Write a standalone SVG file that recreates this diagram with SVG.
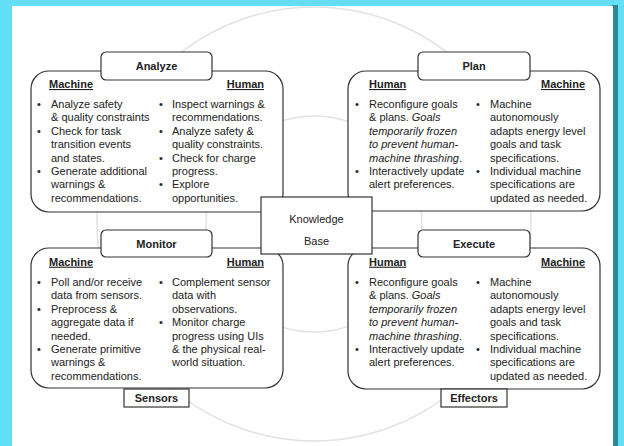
<svg xmlns="http://www.w3.org/2000/svg" width="624" height="446" viewBox="0 0 624 446">
<defs>
<style>
.box{fill:#fff;stroke:#333;stroke-width:1.2}
.ring{fill:none;stroke:#e2e2e2;stroke-width:1.5}
text{font-family:"Liberation Sans",Arial,sans-serif;fill:#222}
.t{font-size:11px;font-weight:bold}
.h{font-size:11px;font-weight:bold;text-decoration:underline}
.b{font-size:11px}
.i{font-style:italic}
</style>
</defs>
<g id="background">
<rect x="0" y="0" width="624" height="446" fill="#62def5"/>
<rect x="612" y="5" width="6" height="441" fill="#2f8696"/>
<rect x="12" y="6" width="601" height="440" fill="#fff"/>
<circle class="ring" cx="314" cy="224" r="217"/>
<circle class="ring" cx="314" cy="224" r="108"/>
</g>
<g id="connectors"/>
<g id="analyze">
<rect class="box" x="31" y="71" width="252" height="141" rx="18"/>
<rect class="box" x="101" y="52" width="111" height="28" rx="5"/>
<text class="t" x="156.5" y="70" text-anchor="middle">Analyze</text>
<text class="h" x="49" y="88">Machine</text>
<text class="h" x="264" y="88" text-anchor="end">Human</text>
<g class="b">
<text x="37" y="108">•</text><text x="51" y="108">Analyze safety</text>
<text x="51" y="121.4">&amp; quality constraints</text>
<text x="37" y="134.8">•</text><text x="51" y="134.8">Check for task</text>
<text x="51" y="148.2">transition events</text>
<text x="51" y="161.6">and states.</text>
<text x="37" y="175">•</text><text x="51" y="175">Generate additional</text>
<text x="51" y="188.4">warnings &amp;</text>
<text x="51" y="201.8">recommendations.</text>
<text x="159" y="108">•</text><text x="172" y="108">Inspect warnings &amp;</text>
<text x="172" y="121.4">recommendations.</text>
<text x="159" y="134.8">•</text><text x="172" y="134.8">Analyze safety &amp;</text>
<text x="172" y="148.2">quality constraints.</text>
<text x="159" y="161.6">•</text><text x="172" y="161.6">Check for charge</text>
<text x="172" y="175">progress.</text>
<text x="159" y="188.4">•</text><text x="172" y="188.4">Explore</text>
<text x="172" y="201.8">opportunities.</text>
</g>
</g>
<g id="plan">
<rect class="box" x="348" y="71" width="252" height="140" rx="18"/>
<rect class="box" x="418" y="52" width="112" height="28" rx="5"/>
<text class="t" x="474" y="70" text-anchor="middle">Plan</text>
<text class="h" x="369" y="88">Human</text>
<text class="h" x="585" y="88" text-anchor="end">Machine</text>
<g class="b">
<text x="355" y="108">•</text><text x="369" y="108">Reconfigure goals</text>
<text x="369" y="121.4">&amp; plans. <tspan class="i">Goals</tspan></text>
<text x="369" y="134.8" class="i">temporarily frozen</text>
<text x="369" y="148.2" class="i">to prevent human-</text>
<text x="369" y="161.6"><tspan class="i">machine thrashing</tspan>.</text>
<text x="355" y="175">•</text><text x="369" y="175">Interactively update</text>
<text x="369" y="188.4">alert preferences.</text>
<text x="476" y="108">•</text><text x="490" y="108">Machine</text>
<text x="490" y="121.4">autonomously</text>
<text x="490" y="134.8">adapts energy level</text>
<text x="490" y="148.2">goals and task</text>
<text x="490" y="161.6">specifications.</text>
<text x="476" y="175">•</text><text x="490" y="175">Individual machine</text>
<text x="490" y="188.4">specifications are</text>
<text x="490" y="201.8">updated as needed.</text>
</g>
</g>
<g id="monitor">
<rect class="box" x="31" y="248" width="252" height="140" rx="18"/>
<rect class="box" x="101" y="230" width="111" height="27" rx="5"/>
<text class="t" x="156.5" y="247.5" text-anchor="middle">Monitor</text>
<text class="h" x="49" y="265.7">Machine</text>
<text class="h" x="264" y="265.7" text-anchor="end">Human</text>
<g class="b">
<text x="37" y="286">•</text><text x="51" y="286">Poll and/or receive</text>
<text x="51" y="299.4">data from sensors.</text>
<text x="37" y="312.8">•</text><text x="51" y="312.8">Preprocess &amp;</text>
<text x="51" y="326.2">aggregate data if</text>
<text x="51" y="339.6">needed.</text>
<text x="37" y="353">•</text><text x="51" y="353">Generate primitive</text>
<text x="51" y="366.4">warnings &amp;</text>
<text x="51" y="379.8">recommendations.</text>
<text x="159" y="286">•</text><text x="172" y="286">Complement sensor</text>
<text x="172" y="299.4">data with</text>
<text x="172" y="312.8">observations.</text>
<text x="159" y="326.2">•</text><text x="172" y="326.2">Monitor charge</text>
<text x="172" y="339.6">progress using UIs</text>
<text x="172" y="353">&amp; the physical real-</text>
<text x="172" y="366.4">world situation.</text>
</g>
</g>
<g id="execute">
<rect class="box" x="348" y="248" width="252" height="141" rx="18"/>
<rect class="box" x="418" y="230" width="112" height="27" rx="5"/>
<text class="t" x="474" y="247.5" text-anchor="middle">Execute</text>
<text class="h" x="369" y="265.7">Human</text>
<text class="h" x="585" y="265.7" text-anchor="end">Machine</text>
<g class="b">
<text x="355" y="286">•</text><text x="369" y="286">Reconfigure goals</text>
<text x="369" y="299.4">&amp; plans. <tspan class="i">Goals</tspan></text>
<text x="369" y="312.8" class="i">temporarily frozen</text>
<text x="369" y="326.2" class="i">to prevent human-</text>
<text x="369" y="339.6"><tspan class="i">machine thrashing</tspan>.</text>
<text x="355" y="353">•</text><text x="369" y="353">Interactively update</text>
<text x="369" y="366.4">alert preferences.</text>
<text x="476" y="286">•</text><text x="490" y="286">Machine</text>
<text x="490" y="299.4">autonomously</text>
<text x="490" y="312.8">adapts energy level</text>
<text x="490" y="326.2">goals and task</text>
<text x="490" y="339.6">specifications.</text>
<text x="476" y="353">•</text><text x="490" y="353">Individual machine</text>
<text x="490" y="366.4">specifications are</text>
<text x="490" y="379.8">updated as needed.</text>
</g>
</g>
<g id="sensors">
<rect class="box" x="124" y="389" width="65" height="18"/>
<text class="t" x="156.5" y="401.5" text-anchor="middle">Sensors</text>
</g>
<g id="effectors">
<rect class="box" x="441" y="389" width="66" height="18"/>
<text class="t" x="474" y="401.5" text-anchor="middle">Effectors</text>
</g>
<g id="knowledge-base">
<rect class="box" x="261" y="197" width="111" height="57"/>
<text class="b" x="316.5" y="223" text-anchor="middle">Knowledge</text>
<text class="b" x="316.5" y="245" text-anchor="middle">Base</text>
</g>
</svg>
